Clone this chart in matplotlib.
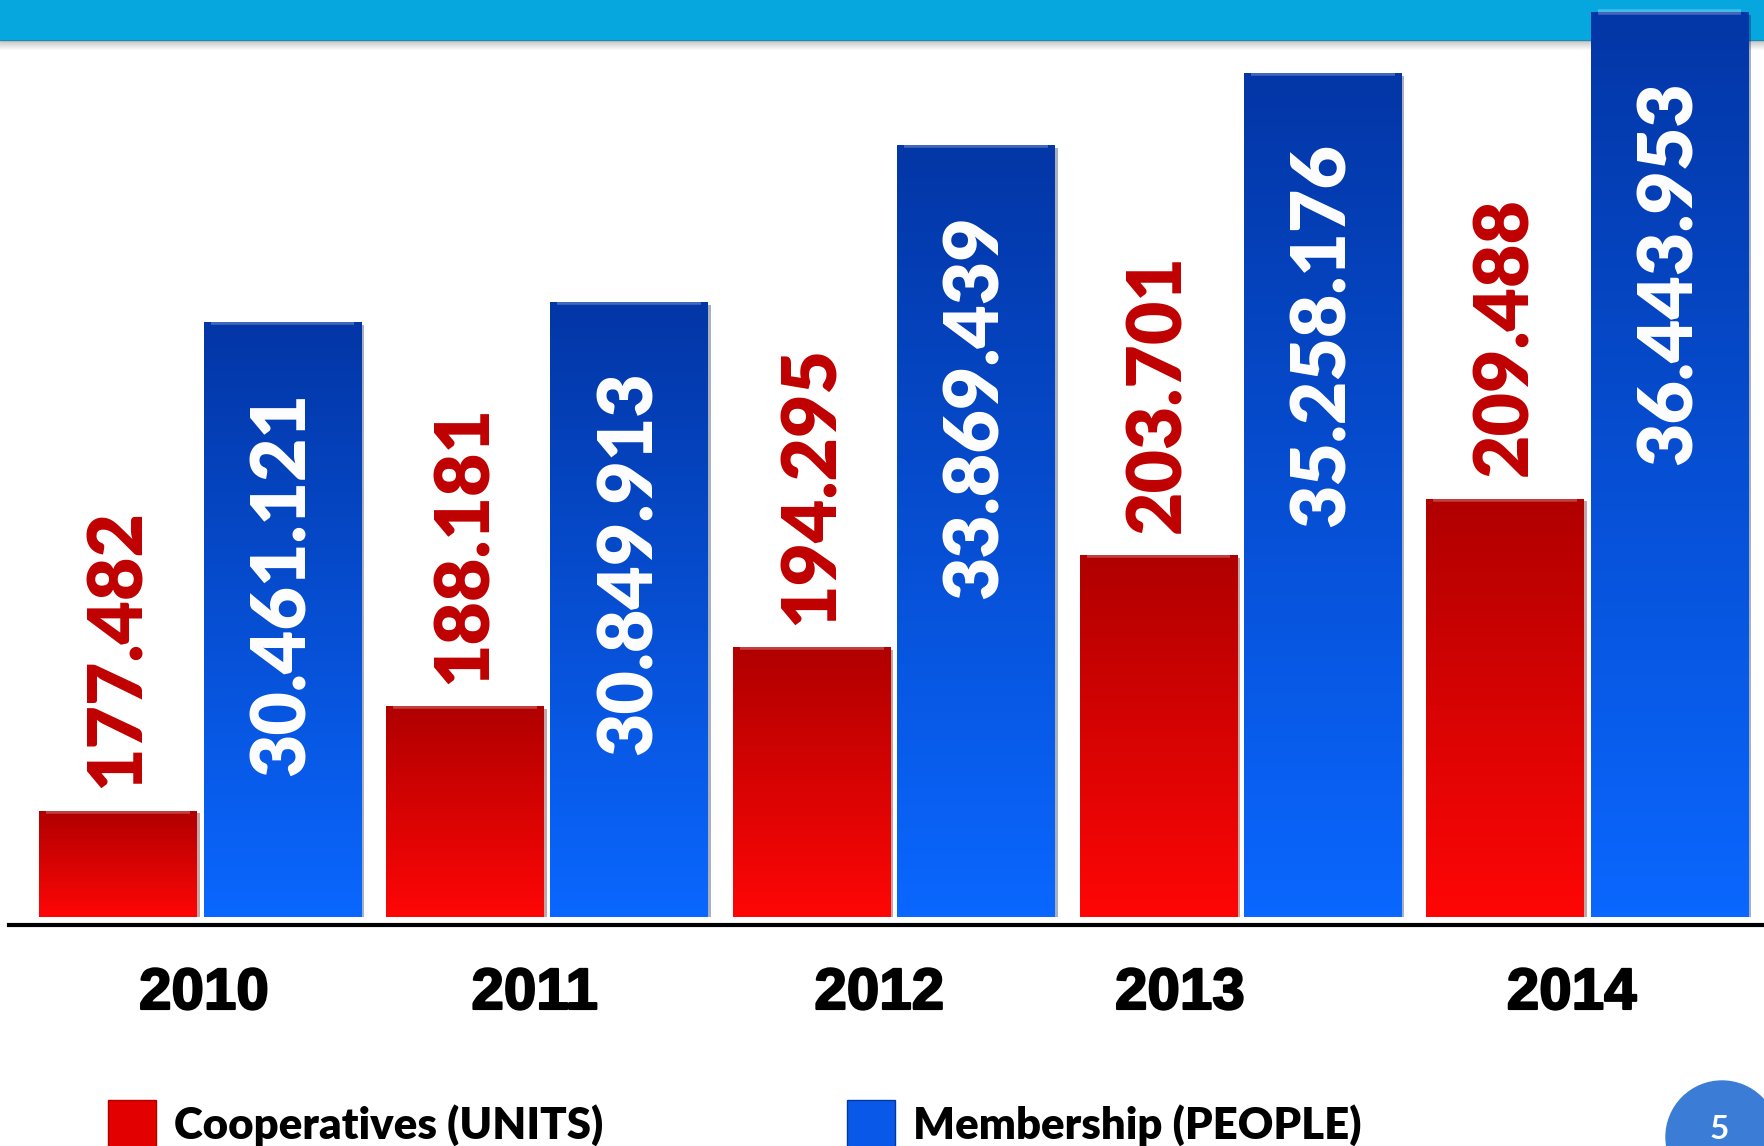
import numpy as np
import matplotlib
matplotlib.use("Agg")
import matplotlib.pyplot as plt
from matplotlib.patches import Rectangle, Ellipse, Patch
from matplotlib.lines import Line2D
from matplotlib import patheffects as pe

# --- DATA ---
years = ["2010", "2011", "2012", "2013", "2014"]
coop_units = [177482, 188181, 194295, 203701, 209488]
members = [30461121, 30849913, 33869439, 35258176, 36443953]
coop_labels = ["177.482", "188.181", "194.295", "203.701", "209.488"]
member_labels = ["30.461.121", "30.849.913", "33.869.439", "35.258.176", "36.443.953"]

# --- LAYOUT ---
W, H = 1765, 1146
BAR_W = 0.4545
OFF = 0.237
YEAR_NUDGE = [0.01, -0.036, -0.042, -0.175, -0.045]

RED_TOP, RED_BOT = "#b00000", "#ff0606"
BLUE_TOP, BLUE_BOT = "#0336a6", "#0a67ff"
LABEL_FONT = dict(fontsize=54, fontweight="heavy", family="Lato")


def gradient_bars(ax, xs, vals, ylo, c_top, c_bot):
    """Draw bars and fill each with a vertical gradient (dark top, bright bottom)."""
    bars = ax.bar(xs, vals, BAR_W, color=c_bot, zorder=2,
                  path_effects=[pe.SimplePatchShadow(offset=(2, -2), alpha=0.35),
                                pe.Normal()])
    top = np.array(matplotlib.colors.to_rgb(c_top))
    bot = np.array(matplotlib.colors.to_rgb(c_bot))
    t = np.linspace(0, 1, 256)[:, None]
    grad = (top * (1 - t) + bot * t)[:, None, :]
    for b, x, v in zip(bars, xs, vals):
        im = ax.imshow(grad, extent=(x - BAR_W / 2, x + BAR_W / 2, ylo, v),
                       aspect="auto", origin="upper", zorder=3)
        im.set_clip_path(b)
        # light bevel along the top edge
        ax.plot([x - BAR_W / 2 + 0.02, x + BAR_W / 2 - 0.02], [v, v],
                color="white", alpha=0.25, lw=4, zorder=4, solid_capstyle="butt")
    return bars


fig = plt.figure(figsize=(W / 100, H / 100), dpi=100)
fig.patch.set_facecolor("white")

# top banner with a soft shadow
fig.add_artist(Rectangle((0, 1 - 40 / H), 1, 40 / H, transform=fig.transFigure,
                         color="#06a6df", zorder=-2))
for k in range(10):
    fig.add_artist(Rectangle((0, 1 - (41 + k) / H), 1, 1 / H, transform=fig.transFigure,
                             color="#555555", alpha=0.35 * (1 - k / 10), lw=0, zorder=-2))

ax = fig.add_axes([9 / W, 1 - 917 / H, 1753 / W, 917 / H])
ax2 = ax.twinx()
for a in (ax, ax2):
    a.set_facecolor("none")
    a.axis("off")

x = np.arange(len(years))
red_lo, red_hi = 166570, 260640
blue_lo, blue_hi = 19.0e6, 36.67e6

gradient_bars(ax, x - OFF, coop_units, red_lo, RED_TOP, RED_BOT)
gradient_bars(ax2, x + OFF, members, blue_lo, BLUE_TOP, BLUE_BOT)

ax.set_xlim(-0.552, 4.504)
ax.set_ylim(red_lo, red_hi)
ax2.set_ylim(blue_lo, blue_hi)

# value labels
for xi, v, lab in zip(x, coop_units, coop_labels):
    ax.annotate(lab, (xi - OFF, v), xytext=(0, 16), textcoords="offset points",
                rotation=90, ha="center", va="bottom", color="#c00000",
                zorder=5, **LABEL_FONT)
for xi, v, lab in zip(x, members, member_labels):
    ax2.annotate(lab, (xi + OFF, v), xytext=(0, -50), textcoords="offset points",
                 rotation=90, ha="center", va="top", color="white",
                 zorder=5, **LABEL_FONT)

# year labels
for xi, yr, nd in zip(x, years, YEAR_NUDGE):
    ax.text(xi + nd, -0.084, yr, transform=ax.get_xaxis_transform(),
            ha="center", va="center", fontsize=42, fontweight="bold",
            family="Liberation Sans", color="black",
            path_effects=[pe.withStroke(linewidth=1.5, foreground="black")])

# baseline
fig.add_artist(Line2D([9 / W, 1762 / W], [1 - 925 / H] * 2, color="black", lw=3))

# legend entries
leg_kw = dict(loc="center left", frameon=False,
              prop={"family": "Lato", "weight": "heavy", "size": 31.5},
              handlelength=1.1, handleheight=1.3, handletextpad=0.42, borderpad=0)
fig.legend(handles=[Patch(facecolor="#e20000", edgecolor="#b00000")],
           labels=["Cooperatives (UNITS)"],
           bbox_to_anchor=(86 / W, 1 - 1124 / H), **leg_kw)
fig.legend(handles=[Patch(facecolor="#0a58e8", edgecolor="#0336a6")],
           labels=["Membership (PEOPLE)"],
           bbox_to_anchor=(825 / W, 1 - 1124 / H), **leg_kw)

# page number badge
fig.add_artist(Ellipse((1722 / W, 1 - 1137 / H), 112 / W, 112 / H,
                       transform=fig.transFigure, color="#3b7dd6", zorder=3))
fig.text(1719 / W, 1 - 1144 / H, "5", color="white", fontsize=24,
         fontweight="bold", family="Lato", ha="center", va="bottom", zorder=4)

fig.savefig("out.png", dpi=100)
